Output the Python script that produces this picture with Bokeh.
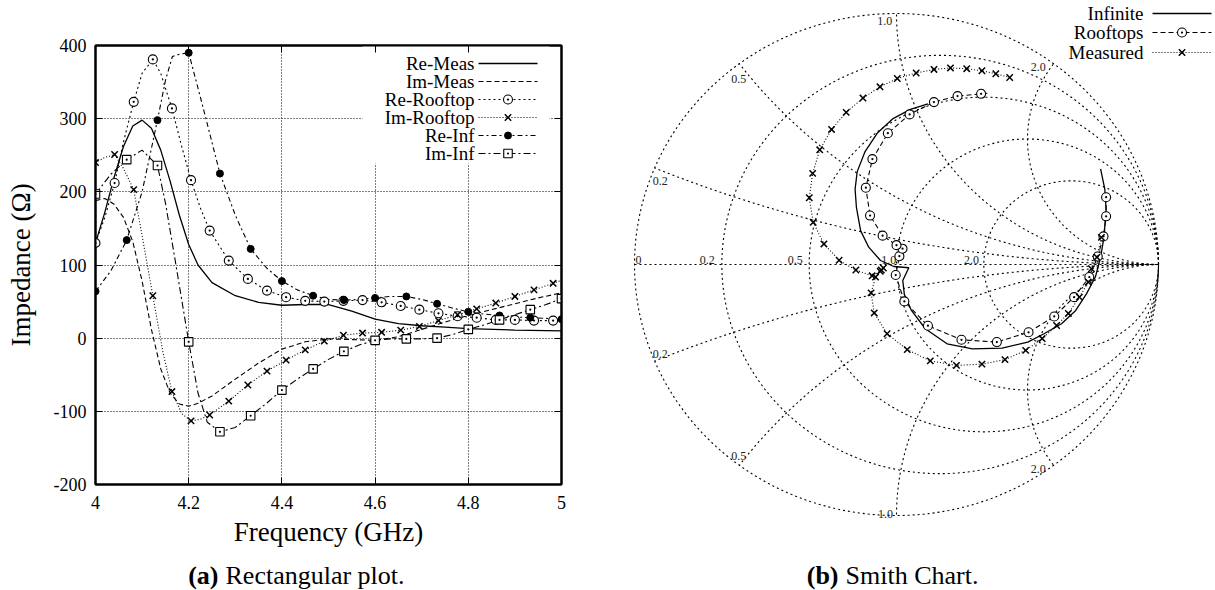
import numpy as np
from bokeh.plotting import figure
from bokeh.models import Range1d, FixedTicker, LinearAxis, BoxAnnotation
from bokeh.layouts import column
from bokeh.embed import file_html
from bokeh.resources import INLINE
from bokeh.core.properties import value

FONT = "Liberation Serif"
INK = "black"

# ---------------- (a) rectangular plot data ----------------
re_meas_f = [4.00, 4.02, 4.04, 4.06, 4.08, 4.10, 4.12, 4.14, 4.16, 4.18, 4.20, 4.22, 4.25,
             4.30, 4.35, 4.40, 4.45, 4.50, 4.55, 4.60, 4.65, 4.70, 4.75, 4.80, 4.90, 5.00]
re_meas_v = [130, 172, 220, 262, 290, 298, 287, 257, 215, 168, 128, 100, 76,
             58, 49, 45, 46, 46, 37, 26, 20, 17, 15, 13, 11, 10]

im_meas_f = [4.00, 4.02, 4.04, 4.06, 4.08, 4.10, 4.12, 4.14, 4.16, 4.18, 4.20, 4.22, 4.25,
             4.30, 4.35, 4.40, 4.45, 4.50, 4.55, 4.60, 4.65, 4.70, 4.75, 4.80, 4.85, 4.90, 4.95, 5.00]
im_meas_v = [188, 191, 183, 165, 132, 78, 12, -42, -75, -90, -93, -89, -79,
             -56, -34, -15, -5, -1, -2, -3, 2, 12, 22, 31, 39, 47, 55, 62]

# rooftop markers
rt_f = [4.000, 4.041, 4.082, 4.123, 4.164, 4.205, 4.245, 4.286, 4.327, 4.368, 4.409, 4.450, 4.491,
        4.532, 4.573, 4.614, 4.655, 4.695, 4.736, 4.777, 4.818, 4.859, 4.900, 4.941, 4.982]
re_rt_v = [130, 212, 323, 381, 314, 216, 147, 106, 81, 65, 56, 51, 50,
           51, 52, 49, 44, 39, 34, 30, 28, 25, 25, 24, 24]
im_rt_v = [240, 251, 203, 58, -73, -113, -105, -86, -64, -45, -30, -16, -4,
           4, 7, 8, 11, 16, 24, 32, 40, 48, 57, 66, 75]

# rooftop curves
re_rt_line_f = [4.000, 4.020, 4.041, 4.060, 4.082, 4.100, 4.123, 4.140, 4.164, 4.185, 4.205, 4.225,
                4.245, 4.286, 4.327, 4.368, 4.409, 4.450, 4.491, 4.532, 4.573, 4.614, 4.655, 4.695,
                4.736, 4.777, 4.818, 4.859, 4.900, 4.941, 4.982, 5.000]
re_rt_line_v = [130, 165, 212, 268, 323, 362, 381, 362, 314, 262, 216, 178,
                147, 106, 81, 65, 56, 51, 50, 51, 52, 49, 44, 39,
                34, 30, 28, 25, 25, 24, 24, 24]
im_rt_line_f = [4.000, 4.020, 4.041, 4.060, 4.082, 4.100, 4.123, 4.145, 4.164, 4.185, 4.205, 4.225,
                4.245, 4.286, 4.327, 4.368, 4.409, 4.450, 4.491, 4.532, 4.573, 4.614, 4.655, 4.695,
                4.736, 4.777, 4.818, 4.859, 4.900, 4.941, 4.982, 5.000]
im_rt_line_v = [240, 247, 251, 232, 203, 140, 58, -20, -73, -103, -113, -111,
                -105, -86, -64, -45, -30, -16, -4, 4, 7, 8, 11, 16,
                24, 32, 40, 48, 57, 66, 75, 79]

# infinite-array markers
inf_mk_f = [4.000, 4.067, 4.133, 4.200, 4.267, 4.333, 4.400, 4.467,
            4.533, 4.600, 4.667, 4.733, 4.800, 4.867, 4.933, 5.000]
re_inf_mk = [64, 134, 298, 390, 225, 122, 78, 58, 52, 55, 57, 47, 36, 31, 28, 26]
im_inf_mk = [197, 244, 236, -5, -128, -106, -71, -42, -18, -3, -1, 0, 12, 25, 39, 54]

# infinite-array curves
re_inf_f = [4.000, 4.033, 4.067, 4.100, 4.133, 4.150, 4.165, 4.180, 4.200, 4.233, 4.267, 4.300,
            4.333, 4.367, 4.400, 4.433, 4.467, 4.500, 4.533, 4.567, 4.600, 4.633, 4.667, 4.700,
            4.733, 4.767, 4.800, 4.833, 4.867, 4.900, 4.933, 4.967, 5.000]
re_inf_v = [64, 92, 134, 200, 298, 352, 385, 388, 390, 310, 225, 168,
            122, 96, 78, 66, 58, 53, 52, 53, 55, 57, 57, 53,
            47, 41, 36, 33, 31, 29, 28, 27, 26]
im_inf_f = [4.000, 4.033, 4.067, 4.100, 4.133, 4.150, 4.170, 4.200, 4.220, 4.240, 4.267, 4.300,
            4.333, 4.367, 4.400, 4.433, 4.467, 4.500, 4.533, 4.567, 4.600, 4.633, 4.667, 4.700,
            4.733, 4.767, 4.800, 4.833, 4.867, 4.900, 4.933, 4.967, 5.000]
im_inf_v = [197, 224, 244, 257, 236, 185, 110, -5, -75, -115, -128, -122,
            -106, -89, -71, -56, -42, -29, -18, -9, -3, -1, -1, -1,
            0, 5, 12, 18, 25, 32, 39, 46, 54]

X_TICKS = [4.0, 4.2, 4.4, 4.6, 4.8, 5.0]
X_LABELS = ["4", "4.2", "4.4", "4.6", "4.8", "5"]
Y_TICKS = [-200, -100, 0, 100, 200, 300, 400]
Y_LABELS = ["-200", "-100", "0", "100", "200", "300", "400"]

LEG_A_NAMES = ["Re-Meas", "Im-Meas", "Re-Rooftop", "Im-Rooftop", "Re-Inf", "Im-Inf"]

# ---------------- (b) Smith chart data (reflection coefficient) ----------------
sm_inf_re = [0.779, 0.795, 0.800, 0.792, 0.779, 0.759, 0.725, 0.684, 0.630, 0.563, 0.501, 0.403,
             0.290, 0.193, 0.110, 0.057, 0.030, 0.024, 0.047, -0.010, -0.061, -0.106, -0.137,
             -0.153, -0.158, -0.150, -0.120, -0.072, -0.015, 0.053, 0.120]
sm_inf_im = [0.381, 0.300, 0.220, 0.109, 0.029, -0.050, -0.117, -0.183, -0.236, -0.276, -0.309, -0.333,
             -0.336, -0.316, -0.256, -0.183, -0.120, -0.064, -0.013, -0.008, 0.016, 0.069, 0.135,
             0.228, 0.300, 0.370, 0.450, 0.525, 0.580, 0.618, 0.640]

sm_roof_re = [0.800, 0.800, 0.790, 0.768, 0.736, 0.678, 0.602, 0.504, 0.383, 0.248, 0.120, 0.030,
              -0.003, 0.011, 0.023, 0.000, -0.053, -0.101, -0.117, -0.092, -0.033, 0.050, 0.143,
              0.233, 0.323]
sm_roof_im = [0.268, 0.192, 0.112, 0.032, -0.050, -0.130, -0.207, -0.270, -0.309, -0.300, -0.244, -0.147,
              -0.042, 0.033, 0.063, 0.077, 0.115, 0.195, 0.306, 0.420, 0.523, 0.598, 0.647,
              0.671, 0.680]
sm_roof_tail = (0.356, 0.683)

sm_meas_re = [0.782, 0.765, 0.744, 0.732, 0.698, 0.656, 0.611, 0.556, 0.493, 0.414, 0.326, 0.229,
              0.129, 0.041, -0.036, -0.085, -0.097, -0.080, -0.058, -0.050, -0.062, -0.093,
              -0.155, -0.219, -0.277, -0.318, -0.333, -0.320, -0.293, -0.248, -0.192, -0.128,
              -0.063, 0.003, 0.075, 0.143, 0.206, 0.268, 0.326, 0.379, 0.432]
sm_meas_im = [0.108, 0.029, -0.017, -0.070, -0.130, -0.195, -0.243, -0.295, -0.342, -0.379, -0.397, -0.402,
              -0.384, -0.339, -0.276, -0.193, -0.113, -0.050, -0.022, -0.014, -0.027, -0.045,
              -0.022, 0.017, 0.082, 0.168, 0.266, 0.363, 0.457, 0.538, 0.606, 0.663,
              0.708, 0.741, 0.763, 0.777, 0.783, 0.780, 0.772, 0.760, 0.745]

SMITH_R = [0.0, 0.2, 0.5, 1.0, 2.0]
SMITH_X = [0.2, 0.5, 1.0, 2.0]
sm_lab_text = ["0", "0.2", "0.5", "1.0", "2.0", "1.0", "0.5", "0.2", "2.0", "0.2", "0.5", "1.0", "2.0"]
sm_lab_x = [-0.985, -0.722, -0.386, -0.030, 0.286, -0.045, -0.602, -0.902, 0.541, -0.902, -0.602, -0.042, 0.541]
sm_lab_y = [0.019, 0.019, 0.019, 0.019, 0.019, 0.971, 0.739, 0.334, 0.788, -0.357, -0.762, -0.994, -0.814]

LEG_B_NAMES = ["Infinite", "Rooftops", "Measured"]

# ---------------- styles ----------------
DASH_IM_MEAS = "5 3"
DASH_RE_RT = "2 3"
DASH_IM_RT = "1 2"
DASH_RE_INF = "5 3 2 3"
DASH_IM_INF = "7 3 2 3"
DASH_GRID = "1 2"
DASH_SMITH_GRID = "2 3"
LW = 1.1
S_CIRC, S_X, S_DOT, S_SQ = 9, 9, 7, 8.5

# ================= figure (a) =================
W1, H1, HCAP = 600, 556, 34
FL, FR, FT, FB = 95, 561, 45, 484  # frame in canvas px
p1 = figure(width=W1, height=H1, output_backend="svg", toolbar_location=None,
            x_range=Range1d(4, 5), y_range=Range1d(-200, 400),
            min_border_left=FL, min_border_right=W1 - FR, min_border_top=FT,
            min_border_bottom=H1 - FB, background_fill_color="white",
            border_fill_color="white")
p1.outline_line_color = INK
p1.outline_line_width = 2


def px_to_f(px):
    return 4 + (px - FL) / (FR - FL)


def py_to_v(py):
    return 400 - (py - FT) * 600.0 / (FB - FT)


xt = FixedTicker(ticks=X_TICKS)
yt = FixedTicker(ticks=Y_TICKS)
p1.xaxis.ticker = xt
p1.yaxis.ticker = yt
p1.xaxis.major_label_overrides = dict(zip(X_TICKS, X_LABELS))
p1.yaxis.major_label_overrides = dict(zip(Y_TICKS, Y_LABELS))
for ax in (p1.xaxis[0], p1.yaxis[0]):
    ax.major_tick_in = 7
    ax.major_tick_out = 0
    ax.minor_tick_line_color = None
    ax.axis_line_width = 2
    ax.axis_line_color = INK
    ax.major_tick_line_color = INK
    ax.major_label_text_font = FONT
    ax.major_label_text_font_size = "18px"
    ax.major_label_text_color = INK
    ax.axis_label_text_font = FONT
    ax.axis_label_text_font_size = "27px"
    ax.axis_label_text_font_style = "normal"
    ax.axis_label_text_color = INK
p1.xaxis.axis_label = "Frequency (GHz)"
p1.yaxis.axis_label = "Impedance (Ω)"
p1.xaxis.major_label_standoff = 11
p1.yaxis.major_label_standoff = 9
p1.xaxis.axis_label_standoff = 5
p1.yaxis.axis_label_standoff = 15

for loc, tk in (("above", X_TICKS), ("right", Y_TICKS)):
    mir = LinearAxis(ticker=FixedTicker(ticks=tk), major_tick_in=7, major_tick_out=0,
                     minor_tick_line_color=None, axis_line_width=2, axis_line_color=INK,
                     major_label_overrides={t: "" for t in tk}, major_label_standoff=0)
    p1.add_layout(mir, loc)

p1.xgrid.ticker = xt
p1.ygrid.ticker = yt
p1.grid.grid_line_color = INK
p1.grid.grid_line_dash = DASH_GRID
p1.grid.grid_line_width = 1

# key background (hides the grid like the gnuplot key)
p1.add_layout(BoxAnnotation(left=px_to_f(362), right=px_to_f(549), bottom=py_to_v(163),
                            top=400, fill_color="white", fill_alpha=1.0, line_color=None,
                            level="underlay"))

p1.line(re_meas_f, re_meas_v, line_color=INK, line_width=1.3)
p1.line(im_meas_f, im_meas_v, line_color=INK, line_width=LW, line_dash=DASH_IM_MEAS)
p1.line(re_rt_line_f, re_rt_line_v, line_color=INK, line_width=LW, line_dash=DASH_RE_RT)
p1.line(im_rt_line_f, im_rt_line_v, line_color=INK, line_width=LW, line_dash=DASH_IM_RT)
p1.line(re_inf_f, re_inf_v, line_color=INK, line_width=LW, line_dash=DASH_RE_INF)
p1.line(im_inf_f, im_inf_v, line_color=INK, line_width=LW, line_dash=DASH_IM_INF)

p1.scatter(rt_f, re_rt_v, marker="circle_dot", size=S_CIRC, fill_color="white", line_color=INK, line_width=1.1)
p1.scatter(rt_f, im_rt_v, marker="x", size=S_X, line_color=INK, line_width=1.5)
p1.scatter(inf_mk_f, re_inf_mk, marker="circle", size=S_DOT, fill_color=INK, line_color=INK)
p1.scatter(inf_mk_f, im_inf_mk, marker="square_dot", size=S_SQ, fill_color="white", line_color=INK, line_width=1.1)

# key
leg_txt_x = px_to_f(474)
leg_l0, leg_l1 = px_to_f(478), px_to_f(537)
leg_mk = 0.5 * (leg_l0 + leg_l1)
leg_rows = [py_to_v(63 + 18.0 * i) for i in range(6)]
p1.text(x=[leg_txt_x] * 6, y=leg_rows, text=LEG_A_NAMES, text_align="right",
        text_baseline="middle", text_font=value(FONT), text_font_size="19px", text_color=INK)
leg_styles = [("solid", None), (DASH_IM_MEAS, None), (DASH_RE_RT, "circle_dot"),
              (DASH_IM_RT, "x"), (DASH_RE_INF, "circle"), (DASH_IM_INF, "square_dot")]
for yv, (dash, mk) in zip(leg_rows, leg_styles):
    p1.line([leg_l0, leg_l1], [yv, yv], line_color=INK, line_width=1.3 if dash == "solid" else LW,
            line_dash=dash)
    if mk == "circle":
        p1.scatter([leg_mk], [yv], marker="circle", size=S_DOT, fill_color=INK, line_color=INK)
    elif mk == "x":
        p1.scatter([leg_mk], [yv], marker="x", size=S_X, line_color=INK, line_width=1.5)
    elif mk == "circle_dot":
        p1.scatter([leg_mk], [yv], marker=mk, size=S_CIRC, fill_color="white", line_color=INK, line_width=1.1)
    elif mk is not None:
        p1.scatter([leg_mk], [yv], marker=mk, size=S_SQ, fill_color="white", line_color=INK, line_width=1.1)

# caption strip for (a): same horizontal frame as p1
capa = figure(width=W1, height=HCAP, output_backend="svg", toolbar_location=None,
              x_range=Range1d(4, 5), y_range=Range1d(0, HCAP),
              min_border_left=FL, min_border_right=W1 - FR, min_border_top=0, min_border_bottom=0,
              x_axis_location=None, y_axis_location=None,
              background_fill_color="white", border_fill_color="white")
capa.outline_line_color = None
capa.grid.visible = False
cap_y = HCAP - (575 - H1)
capa.text(x=[px_to_f(218)], y=[cap_y], text=["(a)"], text_align="right", text_baseline="middle",
          text_font=value(FONT), text_font_size="26px", text_font_style="bold", text_color=INK)
capa.text(x=[px_to_f(225)], y=[cap_y], text=["Rectangular plot."], text_align="left",
          text_baseline="middle", text_font=value(FONT), text_font_size="26px", text_color=INK)

left_block = column(p1, capa, spacing=0)

# ================= figure (b) =================
W2, H2 = 615, 590
CX, CY, RX, RY = 896 - 600, 264, 262.0, 251.0  # chart centre / radii in canvas px
p2 = figure(width=W2, height=H2, output_backend="svg", toolbar_location=None,
            x_range=Range1d(-CX / RX, (W2 - CX) / RX), y_range=Range1d(-(H2 - CY) / RY, CY / RY),
            min_border=0, x_axis_location=None, y_axis_location=None,
            background_fill_color="white", border_fill_color="white")
p2.outline_line_color = None
p2.grid.visible = False

gx, gy = [], []
tt = np.linspace(0, 2 * np.pi, 400)
for r in SMITH_R:
    c, rad = r / (1 + r), 1 / (1 + r)
    gx.append((c + rad * np.cos(tt)).tolist())
    gy.append((rad * np.sin(tt)).tolist())
for xv in SMITH_X:
    xi, yi = (xv ** 2 - 1) / (xv ** 2 + 1), 2 * xv / (xv ** 2 + 1)
    th = np.arctan2(yi - 1 / xv, xi - 1)
    if th > -np.pi / 2:
        th -= 2 * np.pi
    t2 = np.linspace(-np.pi / 2, th, 250)
    ax_ = 1 + np.cos(t2) / xv
    ay_ = 1 / xv + np.sin(t2) / xv
    gx += [ax_.tolist(), ax_.tolist()]
    gy += [ay_.tolist(), (-ay_).tolist()]
gx.append([-1.0, 1.0])
gy.append([0.0, 0.0])
p2.multi_line(gx, gy, line_color=INK, line_width=1.1, line_dash=DASH_SMITH_GRID)

p2.text(x=sm_lab_x, y=sm_lab_y, text=sm_lab_text, text_align="center", text_baseline="middle",
        text_font=value(FONT), text_font_size="12px", text_color="#222222")

p2.line(sm_inf_re, sm_inf_im, line_color=INK, line_width=1.3)
p2.line(sm_roof_re + [sm_roof_tail[0]], sm_roof_im + [sm_roof_tail[1]], line_color=INK,
        line_width=LW, line_dash=DASH_IM_MEAS)
p2.line(sm_meas_re, sm_meas_im, line_color=INK, line_width=LW, line_dash=DASH_IM_RT)
p2.scatter(sm_roof_re, sm_roof_im, marker="circle_dot", size=S_CIRC, fill_color="white",
           line_color=INK, line_width=1.1)
p2.scatter(sm_meas_re, sm_meas_im, marker="x", size=S_X, line_color=INK, line_width=1.5)


def gx_of(px):
    return (px - 600 - CX) / RX


def gy_of(py):
    return (CY - py) / RY


lb_rows = [gy_of(13), gy_of(32), gy_of(52)]
lb_l0, lb_l1 = gx_of(1152), gx_of(1211)
lb_mk = 0.5 * (lb_l0 + lb_l1)
p2.text(x=[gx_of(1143)] * 3, y=lb_rows, text=LEG_B_NAMES, text_align="right", text_baseline="middle",
        text_font=value(FONT), text_font_size="19px", text_color=INK)
p2.line([lb_l0, lb_l1], [lb_rows[0]] * 2, line_color=INK, line_width=1.3)
p2.line([lb_l0, lb_l1], [lb_rows[1]] * 2, line_color=INK, line_width=LW, line_dash=DASH_IM_MEAS)
p2.line([lb_l0, lb_l1], [lb_rows[2]] * 2, line_color=INK, line_width=LW, line_dash=DASH_IM_RT)
p2.scatter([lb_mk], [lb_rows[1]], marker="circle_dot", size=S_CIRC, fill_color="white", line_color=INK, line_width=1.1)
p2.scatter([lb_mk], [lb_rows[2]], marker="x", size=S_X, line_color=INK, line_width=1.5)

cb_y = gy_of(575)
p2.text(x=[gx_of(838)], y=[cb_y], text=["(b)"], text_align="right", text_baseline="middle",
        text_font=value(FONT), text_font_size="26px", text_font_style="bold", text_color=INK)
p2.text(x=[gx_of(845)], y=[cb_y], text=["Smith Chart."], text_align="left", text_baseline="middle",
        text_font=value(FONT), text_font_size="26px", text_color=INK)

# two independent roots placed side by side (no frame alignment between them)
PAGE_TEMPLATE = """
{% block postamble %}
<style>
  html, body { margin: 0 !important; padding: 0 !important; }
  body { display: flex !important; flex-direction: row; flex-wrap: nowrap; align-items: flex-start; }
</style>
{% endblock %}
"""

p = [left_block, p2]
open("out.html", "w").write(file_html(p, INLINE, template=PAGE_TEMPLATE))
